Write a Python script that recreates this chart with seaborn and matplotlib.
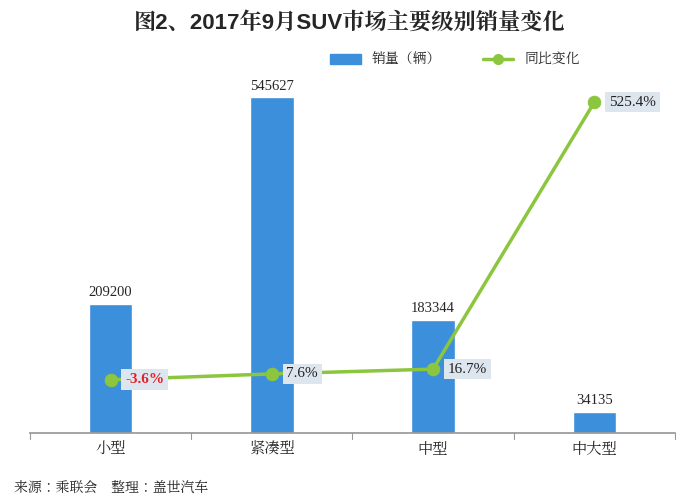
import matplotlib
matplotlib.use("Agg")
import matplotlib.pyplot as plt
from matplotlib import font_manager as fm
import seaborn as sns
import pandas as pd

categories = ["小型", "紧凑型", "中型", "中大型"]
sales = [209200, 545627, 183344, 34135]
yoy = [-3.6, 7.6, 16.7, 525.4]
yoy_labels = ["-3.6%", "7.6%", "16.7%", "525.4%"]

cjk = [f.name for f in fm.fontManager.ttflist if "CJK" in f.name]
cjk_name = next((n for n in cjk if "SC" in n), cjk[0] if cjk else "DejaVu Sans")
sns.set_theme(style="white", rc={"font.family": [cjk_name, "DejaVu Sans"]})
plt.rcParams["font.family"] = [cjk_name, "DejaVu Sans"]

fig = plt.figure(figsize=(7, 5.03), dpi=100)
ax = fig.add_axes([30/700, 1-433/503, 645/700, 369/503])
df = pd.DataFrame({"cat": categories, "sales": sales, "yoy": yoy})
sns.barplot(data=df, x="cat", y="sales", color="#3c8fdb", width=0.27, ax=ax, saturation=1)
ax.set_ylim(0, 600000)
ax.set_xlim(-0.5, 3.5)
ax.set_yticks([])
ax.set_xlabel(""); ax.set_ylabel("")
for s in ["top", "right", "left"]:
    ax.spines[s].set_visible(False)
ax.spines["bottom"].set_color("#999999")
ax.tick_params(axis="x", length=0, labelsize=11, pad=6)
for b in [-0.5, 0.5, 1.5, 2.5, 3.5]:
    ax.plot([b, b], [0, -9000], color="#999999", lw=0.8, clip_on=False)
for i, v in enumerate(sales):
    ax.text(i, v + 8000, str(v), ha="center", va="bottom", fontsize=10.5, family="Liberation Serif")

ax2 = ax.twinx()
sns.lineplot(x=list(range(4)), y=yoy, ax=ax2, color="#8cc63e", lw=2.5, marker="o",
             markersize=9, markeredgecolor="#8cc63e", legend=False)
ax2.set_ylim(-105, 598)
ax2.set_yticks([]); ax2.set_xlim(-0.5, 3.5)
for s in ["top", "right", "left", "bottom"]:
    ax2.spines[s].set_visible(False)
for i, (v, t) in enumerate(zip(yoy, yoy_labels)):
    red = i == 0
    ax2.text(i + 0.09, v, t, ha="left", va="center", fontsize=11, family="Liberation Serif",
             color="#e8202a" if red else "#222222", fontweight="bold" if red else "normal",
             bbox=dict(boxstyle="square,pad=0.25", fc="#dde5ef", ec="none"))

from matplotlib.patches import Patch
from matplotlib.lines import Line2D
handles = [Patch(color="#3c8fdb"), Line2D([], [], color="#8cc63e", lw=2.5, marker="o", markersize=7)]
fig.legend(handles, ["销量（辆）", "同比变化"], loc="center", bbox_to_anchor=(455/700, 1-60/503),
           ncol=2, frameon=False, fontsize=10, handlelength=2.2, columnspacing=3)
fig.text(0.5, 1-22/503, "图2、2017年9月SUV市场主要级别销量变化", ha="center", va="center",
         fontsize=16, fontweight="bold", family=["Liberation Sans", cjk_name])
fig.text(14/700, 1-487/503, "来源：乘联会　整理：盖世汽车", ha="left", va="center",
         fontsize=10, style="italic")
fig.savefig("out.png", dpi=100)
